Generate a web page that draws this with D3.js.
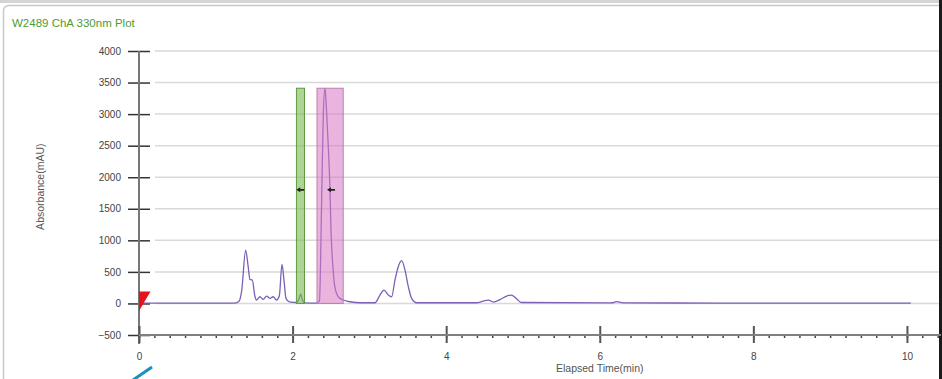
<!DOCTYPE html>
<html>
<head>
<meta charset="utf-8">
<script src="https://cdn.jsdelivr.net/npm/d3@7.9.0/dist/d3.min.js"></script>
<style>
  html, body { margin: 0; padding: 0; background: #fff; }
  svg { display: block; font-family: "Liberation Sans", Arial, sans-serif; }
</style>
</head>
<body>
<div id="chart"></div>
<script>
// trace: elapsed time (min) and absorbance (mAU)
const times = [0, 0.5, 1.0, 1.25, 1.30, 1.337, 1.389, 1.42, 1.445, 1.475, 1.51, 1.53, 1.575, 1.618, 1.662, 1.705, 1.748, 1.79, 1.827, 1.862, 1.888, 1.914, 1.957, 2.05, 2.08, 2.105, 2.127, 2.157, 2.31, 2.35, 2.378, 2.40, 2.422, 2.44, 2.465, 2.487, 2.50, 2.525, 2.55, 2.595, 2.66, 2.747, 2.88, 3.073, 3.138, 3.19, 3.246, 3.29, 3.333, 3.376, 3.42, 3.464, 3.507, 3.55, 3.615, 4.397, 4.483, 4.549, 4.614, 4.70, 4.788, 4.85, 4.91, 4.98, 6.10, 6.17, 6.22, 6.30, 7.5, 9.0, 10.05];
const absorb = [5, 4, 5, 6, 30, 200, 846, 600, 380, 371, 110, 54, 106, 65, 117, 80, 106, 54, 117, 620, 370, 80, 25, 15, 60, 150, 60, 10, 5, 40, 1600, 3000, 3410, 3100, 2480, 1800, 1170, 580, 265, 106, 54, 27, 11, 11, 133, 212, 133, 106, 371, 582, 677, 529, 265, 81, 11, 11, 38, 54, 22, 60, 117, 133, 80, 15, 8, 11, 30, 10, 6, 5, 5];

const yTicks = [-500, 0, 500, 1000, 1500, 2000, 2500, 3000, 3500, 4000];
const xMajor = [0, 2, 4, 6, 8, 10];
const xMinor = d3.range(0, 10.5, 0.2);

// integration windows (start, end, height) and their marker level
const windows = [
  { name: 'green', t0: 2.05, t1: 2.155, top: 3410 },
  { name: 'pink', t0: 2.318, t1: 2.659, top: 3410 }
];
const markers = [{ t: 2.1, v: 1800 }, { t: 2.5, v: 1800 }];

const width = 942, height = 379;
const svg = d3.select('#chart').append('svg')
  .attr('width', width).attr('height', height);

// panel frame
svg.append('rect').attr('x', 0).attr('y', 0).attr('width', width).attr('height', 3).attr('fill', '#d4d4d4');
svg.append('rect').attr('x', 3.5).attr('y', 5.5).attr('width', 950).attr('height', 400)
  .attr('rx', 5).attr('fill', '#fff').attr('stroke', '#c8c8c8').attr('stroke-width', 1.5);
svg.append('rect').attr('x', 939).attr('y', 0).attr('width', 3).attr('height', height).attr('fill', '#1a1a1a');

svg.append('text').attr('x', 12).attr('y', 27)
  .attr('fill', '#4f9a35').attr('font-size', 11.5)
  .text('W2489 ChA 330nm Plot');

const x = d3.scaleLinear().domain([0, 10.45]).range([139, 941.5]);
const y = d3.scaleLinear().domain([-500, 4000]).range([335, 51]);

// gridlines
svg.append('g').selectAll('line')
  .data(yTicks.filter(d => d > -500))
  .join('line')
  .attr('x1', 155).attr('x2', 939)
  .attr('y1', d => y(d)).attr('y2', d => y(d))
  .attr('stroke', '#d9d9d9').attr('stroke-width', 1.5);

// y axis
const gy = svg.append('g').attr('transform', `translate(${x(0)},0)`)
  .call(d3.axisLeft(y).tickValues(yTicks).tickSize(11).tickPadding(7).tickFormat(d3.format('d')));
gy.select('.domain').remove();
gy.selectAll('.tick line').attr('x1', 11).attr('stroke', '#333').attr('stroke-width', 1.5);
gy.selectAll('.tick text').attr('fill', '#444').attr('font-size', 10)
  .attr('font-family', '"Liberation Sans", Arial, sans-serif');
svg.append('line').attr('x1', x(0)).attr('x2', x(0)).attr('y1', y(4000)).attr('y2', 344)
  .attr('stroke', '#777').attr('stroke-width', 2);

// x axis
const gxMinor = svg.append('g').attr('transform', `translate(0,${y(-500)})`)
  .call(d3.axisBottom(x).tickValues(xMinor).tickSize(3).tickFormat(''));
gxMinor.select('.domain').remove();
gxMinor.selectAll('.tick line').attr('y1', -1).attr('stroke', '#444').attr('stroke-width', 1.5);

const gx = svg.append('g').attr('transform', `translate(0,${y(-500)})`)
  .call(d3.axisBottom(x).tickValues(xMajor).tickSize(8).tickPadding(10));
gx.select('.domain').remove();
gx.selectAll('.tick line').attr('y1', -9).attr('stroke', '#555').attr('stroke-width', 2);
gx.selectAll('.tick text').attr('fill', '#444').attr('font-size', 10)
  .attr('font-family', '"Liberation Sans", Arial, sans-serif');
svg.append('line').attr('x1', x(0)).attr('x2', 941).attr('y1', y(-500)).attr('y2', y(-500))
  .attr('stroke', '#808080').attr('stroke-width', 2);

svg.append('text').attr('x', x(6)).attr('y', 372).attr('text-anchor', 'middle')
  .attr('fill', '#555').attr('font-size', 10.5).text('Elapsed Time(min)');
svg.append('text').attr('transform', `translate(44,${y(1850)}) rotate(-90)`)
  .attr('text-anchor', 'middle').attr('fill', '#555').attr('font-size', 10.5)
  .text('Absorbance(mAU)');

// trace
const pts = times.map((t, i) => [t, absorb[i]]);
svg.append('path').datum(pts)
  .attr('fill', 'none').attr('stroke', '#7b60b5').attr('stroke-width', 1.3)
  .attr('d', d3.line().x(d => x(d[0])).y(d => y(d[1])).curve(d3.curveMonotoneX));

// integration windows over the trace
const winStyle = {
  green: { fill: 'rgba(120,185,80,0.6)', stroke: '#5d9b3f' },
  pink: { fill: 'rgba(215,120,195,0.55)', stroke: '#c07cb5' }
};
svg.append('g').selectAll('rect').data(windows).join('rect')
  .attr('x', d => x(d.t0)).attr('width', d => x(d.t1) - x(d.t0))
  .attr('y', d => y(d.top)).attr('height', d => y(0) - y(d.top))
  .attr('fill', d => winStyle[d.name].fill)
  .attr('stroke', d => winStyle[d.name].stroke).attr('stroke-width', 1);

// small arrow markers
svg.append('g').selectAll('path').data(markers).join('path')
  .attr('transform', d => `translate(${x(d.t)},${y(d.v)})`)
  .attr('d', 'M-4,0 L0,-2.5 L0,-0.8 L4,-0.8 L4,0.8 L0,0.8 L0,2.5 Z')
  .attr('fill', '#222');

// red start flag at origin
svg.append('path')
  .attr('d', `M${x(0)},${y(190)} L${x(0.15)},${y(190)} L${x(0)},${y(-120)} Z`)
  .attr('fill', '#e3151c');

// stray blue stroke at bottom left
svg.append('line').attr('x1', 133).attr('y1', 380).attr('x2', 152).attr('y2', 367)
  .attr('stroke', '#1f8dbd').attr('stroke-width', 3);
</script>
</body>
</html>
